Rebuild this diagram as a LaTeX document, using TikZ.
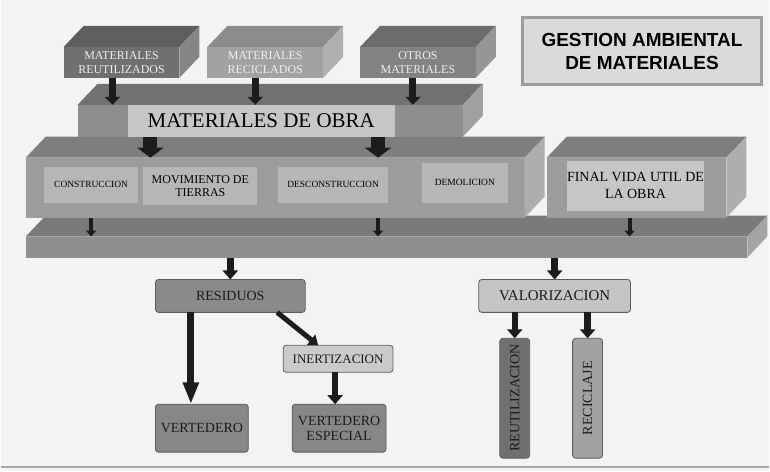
\documentclass[tikz,border=0pt]{standalone}
\usepackage{fontspec}
\setmainfont{Liberation Serif}
\newfontfamily\titlefont{Liberation Sans}
\usetikzlibrary{positioning,arrows.meta,calc}
\definecolor{paper}{HTML}{F3F3F3}
\definecolor{rule}{HTML}{A8A8A8}
\definecolor{titlefill}{HTML}{DADADA}
\definecolor{titleedge}{HTML}{9C9C9C}
\definecolor{srctext}{HTML}{EEEEEE}
\definecolor{reutf}{HTML}{707070}
\definecolor{reutt}{HTML}{5E5E5E}
\definecolor{reuts}{HTML}{858585}
\definecolor{recif}{HTML}{A2A2A2}
\definecolor{recit}{HTML}{8C8C8C}
\definecolor{recis}{HTML}{B0B0B0}
\definecolor{otrof}{HTML}{828282}
\definecolor{otrot}{HTML}{6C6C6C}
\definecolor{otros}{HTML}{969696}
\definecolor{obraf}{HTML}{8E8E8E}
\definecolor{obrat}{HTML}{727272}
\definecolor{obras}{HTML}{A0A0A0}
\definecolor{obrain}{HTML}{C6C6C6}
\definecolor{procf}{HTML}{9C9C9C}
\definecolor{proct}{HTML}{7E7E7E}
\definecolor{procs}{HTML}{AEAEAE}
\definecolor{procin}{HTML}{B6B6B6}
\definecolor{collf}{HTML}{8F8F8F}
\definecolor{collt}{HTML}{7A7A7A}
\definecolor{colls}{HTML}{A4A4A4}
\definecolor{cresid}{HTML}{8A8A8A}
\definecolor{cinert}{HTML}{CACACA}
\definecolor{cvert}{HTML}{878787}
\definecolor{cvalor}{HTML}{C4C4C4}
\definecolor{creut}{HTML}{707070}
\definecolor{crecic}{HTML}{A2A2A2}
\definecolor{edge}{HTML}{5C5C5C}
\definecolor{ink}{HTML}{1C1C1C}
\tikzset{
  face/.style={rectangle, inner sep=0pt, outer sep=0pt, align=center},
  srcbox/.style={face, minimum width=116pt, minimum height=31pt, text=srctext,
                 font=\fontsize{12}{14}\selectfont},
  inbox/.style={face, fill=procin, font=\fontsize{12}{13}\selectfont},
  opbox/.style={inbox, font=\fontsize{9.5}{11}\selectfont},
  stepbox/.style={face, draw=edge, line width=0.8pt, rounded corners=3pt,
                  font=\fontsize{14}{15}\selectfont, text=ink},
  vbox/.style={stepbox, minimum width=30pt, minimum height=120pt},
  titlebox/.style={face, draw=titleedge, line width=3pt, fill=titlefill,
                   font=\titlefont\bfseries\fontsize{19}{23}\selectfont},
  % ---- block arrows ----
  srcarr/.style={-{Triangle[length=8pt,width=15pt]}, line width=7pt, draw=ink},
  bigarr/.style={-{Triangle[length=10pt,width=26pt]}, line width=14pt, draw=ink},
  smallarr/.style={-{Triangle[length=6pt,width=10pt]}, line width=4pt, draw=ink},
  midarr/.style={-{Triangle[length=9pt,width=15pt]}, line width=6.5pt, draw=ink},
  longarr/.style={-{Triangle[length=22pt,width=15pt]}, line width=7pt, draw=ink},
}
% top and side faces of a slab, behind its front node
\newcommand{\extrude}[3]{%
  \fill[#2] (#1.north west) -- ++(20,-21) -- ($(#1.north east)+(20,-21)$) -- (#1.north east) -- cycle;
  \fill[#3] (#1.north east) -- ++(20,-21) -- ($(#1.south east)+(20,-21)$) -- (#1.south east) -- cycle;}

\begin{document}
\begin{tikzpicture}[x=1pt,y=-1pt]
  \fill[paper] (0,0) rectangle (770,472);
  \draw[rule, line width=1.5pt] (0,468) -- (770,468);
  % title
  \node[titlebox, minimum width=239pt, minimum height=67pt] (title) at (642.5,51.5) {GESTION AMBIENTAL\\DE MATERIALES};
  % collector slab
  \node[face, fill=collf, minimum width=723pt, minimum height=21pt] (coll) at (386.5,247.5) {};
  \extrude{coll}{collt}{colls}
  % process slab
  \node[face, fill=procf, minimum width=500pt, minimum height=60pt] (proc) at (275,188) {};
  \extrude{proc}{proct}{procs}
  \node[opbox, minimum width=95pt, minimum height=36pt]  (constr) at (90.5,185) {CONSTRUCCION};
  \node[inbox, minimum width=114pt, minimum height=38pt] (movim)  at (200,186)  {MOVIMIENTO DE\\TIERRAS};
  \node[opbox, minimum width=110pt, minimum height=36pt] (descon) at (333,185)  {DESCONSTRUCCION};
  \node[opbox, minimum width=86pt, minimum height=40pt]  (demol)  at (465,183)  {DEMOLICION};
  % end of life slab
  \node[face, fill=procf, minimum width=180pt, minimum height=60pt] (final) at (637,188) {};
  \extrude{final}{proct}{procs}
  \node[inbox, fill=obrain, minimum width=138pt, minimum height=50pt, font=\fontsize{14}{17}\selectfont] (finalt) at (636,186) {FINAL VIDA UTIL DE\\LA OBRA};
  % materials slab
  \node[face, fill=obraf, minimum width=386pt, minimum height=32pt] (obra) at (270,121) {};
  \extrude{obra}{obrat}{obras}
  \node[inbox, fill=obrain, minimum width=268pt, minimum height=32pt, font=\fontsize{21}{24}\selectfont] (obrat) at (261,121) {MATERIALES DE OBRA};
  % sources
  \node[srcbox, fill=reutf] (reut)  at (121,62.5) {MATERIALES\\REUTILIZADOS};
  \extrude{reut}{reutt}{reuts}
  \node[srcbox, fill=recif] (recic) at (265,62.5) {MATERIALES\\RECICLADOS};
  \extrude{recic}{recit}{recis}
  \node[srcbox, fill=otrof] (otro)  at (418,62.5) {OTROS\\MATERIALES};
  \extrude{otro}{otrot}{otros}
  % destinations
  \node[stepbox, fill=cresid, minimum width=150pt, minimum height=33pt] (resid) at (230,296.5) {RESIDUOS};
  \node[stepbox, fill=cinert, minimum width=110pt, minimum height=27pt, font=\fontsize{13}{14}\selectfont] (inert) at (338,359.5) {INERTIZACION};
  \node[stepbox, fill=cvert, minimum width=93pt, minimum height=48pt] (vert) at (201.5,429) {VERTEDERO};
  \node[stepbox, fill=cvert, minimum width=94pt, minimum height=48pt] (vesp) at (339,429) {VERTEDERO\\ESPECIAL};
  \node[stepbox, fill=cvalor, minimum width=152pt, minimum height=33pt, font=\fontsize{15}{16}\selectfont] (valor) at (555,296.5) {VALORIZACION};
  \node[vbox, fill=creut]  (reuse)   at (515,399) {\rotatebox{90}{REUTILIZACION}};
  \node[vbox, fill=crecic] (recycle) at (588,399) {\rotatebox{90}{RECICLAJE}};
  % arrows
  \draw[srcarr] ([xshift=-9pt]reut.south)  -- ([xshift=-9pt]reut.south |- obra.north);
  \draw[srcarr] ([xshift=-10pt]recic.south) -- ([xshift=-10pt]recic.south |- obra.north);
  \draw[srcarr] ([xshift=-5pt]otro.south)  -- ([xshift=-5pt]otro.south |- obra.north);
  \draw[bigarr] ([xshift=-120pt]obra.south) -- ([xshift=-120pt]obra.south |- proc.north);
  \draw[bigarr] ([xshift=108pt]obra.south)  -- ([xshift=108pt]obra.south |- proc.north);
  \draw[smallarr] (constr.south |- proc.south) -- (constr.south |- coll.north);
  \draw[smallarr] ([xshift=103pt]proc.south) -- ([xshift=103pt]proc.south |- coll.north);
  \draw[smallarr] ([xshift=-7pt]final.south) -- ([xshift=-7pt]final.south |- coll.north);
  \draw[midarr] (resid.north |- coll.south) -- (resid.north);
  \draw[midarr] (valor.north |- coll.south) -- (valor.north);
  \draw[longarr] ([xshift=-11pt]vert.north |- resid.south) -- ([xshift=-11pt]vert.north);
  \draw[-{Triangle[length=9pt,width=13pt]}, line width=5pt, draw=ink] ([xshift=-28pt]resid.south east) -- ([xshift=-20pt]inert.north);
  \draw[midarr] ([xshift=-3pt]inert.south) -- ([xshift=-3pt]inert.south |- vesp.north);
  \draw[midarr] (reuse.north |- valor.south) -- (reuse.north);
  \draw[midarr] (recycle.north |- valor.south) -- (recycle.north);
\end{tikzpicture}
\end{document}
